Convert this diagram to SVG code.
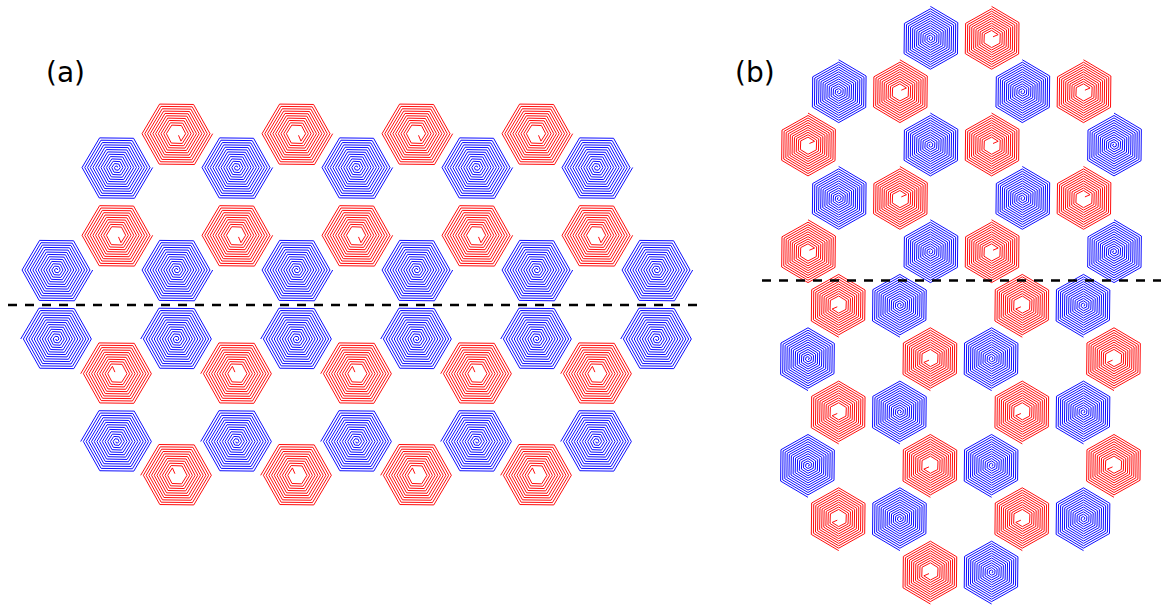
<svg xmlns="http://www.w3.org/2000/svg" xmlns:xlink="http://www.w3.org/1999/xlink" width="1161" height="606" viewBox="0 0 1161 606">
<style>
.b{fill:none;stroke:#0000ff;stroke-width:0.95;vector-effect:non-scaling-stroke}
.r{fill:none;stroke:#ff0000;stroke-width:0.95;vector-effect:non-scaling-stroke}
.dash{fill:none;stroke:#000;stroke-width:2.5;stroke-dasharray:9 8}
.lbl{font-family:"DejaVu Sans","Liberation Sans",sans-serif;font-size:28px;fill:#000}
</style>
<defs>
<path id="sb" class="b" d="M36,0 L17.78,30.79 -17.55,30.4 -34.65,0 -17.1,-29.62 16.88,-29.23 33.3,0 16.43,28.45 -16.2,28.06 -31.95,0 -15.75,-27.28 15.53,-26.89 30.6,0 15.08,26.11 -14.85,25.72 -29.25,0 -14.4,-24.94 14.18,-24.55 27.9,0 13.73,23.77 -13.5,23.38 -26.55,0 -13.05,-22.6 12.83,-22.21 25.2,0 12.38,21.43 -12.15,21.04 -23.85,0 -11.7,-20.26 11.48,-19.88 22.5,0 11.03,19.1 -10.8,18.71 -21.15,0 -10.35,-17.93 10.13,-17.54 19.8,0 9.68,16.76 -9.45,16.37 -18.45,0 -9,-15.59 8.78,-15.2 17.1,0 8.33,14.42 -8.1,14.03 -15.75,0 -7.65,-13.25 7.43,-12.86 14.4,0 6.98,12.08 -6.75,11.69 -13.05,0 -6.3,-10.91 6.08,-10.52 11.7,0 5.63,9.74 -5.4,9.35 -10.35,0 -4.95,-8.57 4.73,-8.18 9,0 4.28,7.4 -4.05,7.01 -7.65,0 -3.6,-6.24 3.38,-5.85 6.3,0 2.93,5.07 -2.7,4.68 -4.95,0 -2.25,-3.9 2.03,-3.51 3.6,0 1.58,2.73 -1.35,2.34 -2.25,0 -0.9,-1.56 0.68,-1.17 0.9,0"/>
<path id="sr" class="r" d="M36,0 L17.78,30.79 -17.55,30.4 -34.65,0 -17.1,-29.62 16.88,-29.23 33.3,0 16.43,28.45 -16.2,28.06 -31.95,0 -15.75,-27.28 15.53,-26.89 30.6,0 15.08,26.11 -14.85,25.72 -29.25,0 -14.4,-24.94 14.18,-24.55 27.9,0 13.73,23.77 -13.5,23.38 -26.55,0 -13.05,-22.6 12.83,-22.21 25.2,0 12.38,21.43 -12.15,21.04 -23.85,0 -11.7,-20.26 11.48,-19.88 22.5,0 11.03,19.1 -10.8,18.71 -21.15,0 -10.35,-17.93 10.13,-17.54 19.8,0 9.68,16.76 -9.45,16.37 -18.45,0 -9,-15.59 8.78,-15.2 17.1,0 8.33,14.42 -8.1,14.03 -15.75,0 -7.65,-13.25 7.43,-12.86 14.4,0 6.98,12.08 -6.75,11.69 -13.05,0 -6.3,-10.91 6.08,-10.52 11.7,0 5.63,9.74 -5.4,9.35 -10.35,0 -4.95,-8.57 4.73,-8.18 9,0 4.28,7.4 1.8,1.6"/>
</defs>

<text class="lbl" x="46" y="82">(a)</text>
<text class="lbl" x="735" y="82">(b)</text>

<g id="panel-a">
<g id="a-r1-1" transform="translate(176.7,133.7)"><use xlink:href="#sr"/></g>
<g id="a-r1-2" transform="translate(296.7,133.7)"><use xlink:href="#sr"/></g>
<g id="a-r1-3" transform="translate(416.7,133.7)"><use xlink:href="#sr"/></g>
<g id="a-r1-4" transform="translate(536.7,133.7)"><use xlink:href="#sr"/></g>

<g id="a-b2-1" transform="translate(116.7,167.5)"><use xlink:href="#sb"/></g>
<g id="a-b2-2" transform="translate(236.7,167.5)"><use xlink:href="#sb"/></g>
<g id="a-b2-3" transform="translate(356.7,167.5)"><use xlink:href="#sb"/></g>
<g id="a-b2-4" transform="translate(476.7,167.5)"><use xlink:href="#sb"/></g>
<g id="a-b2-5" transform="translate(596.7,167.5)"><use xlink:href="#sb"/></g>

<g id="a-r3-1" transform="translate(116.7,235.3)"><use xlink:href="#sr"/></g>
<g id="a-r3-2" transform="translate(236.7,235.3)"><use xlink:href="#sr"/></g>
<g id="a-r3-3" transform="translate(356.7,235.3)"><use xlink:href="#sr"/></g>
<g id="a-r3-4" transform="translate(476.7,235.3)"><use xlink:href="#sr"/></g>
<g id="a-r3-5" transform="translate(596.7,235.3)"><use xlink:href="#sr"/></g>

<g id="a-b4-1" transform="translate(56.7,270)"><use xlink:href="#sb"/></g>
<g id="a-b4-2" transform="translate(176.7,270)"><use xlink:href="#sb"/></g>
<g id="a-b4-3" transform="translate(296.7,270)"><use xlink:href="#sb"/></g>
<g id="a-b4-4" transform="translate(416.7,270)"><use xlink:href="#sb"/></g>
<g id="a-b4-5" transform="translate(536.7,270)"><use xlink:href="#sb"/></g>
<g id="a-b4-6" transform="translate(656.7,270)"><use xlink:href="#sb"/></g>

<g id="a-b5-1" transform="translate(56.7,339) rotate(180)"><use xlink:href="#sb"/></g>
<g id="a-b5-2" transform="translate(176.7,339) rotate(180)"><use xlink:href="#sb"/></g>
<g id="a-b5-3" transform="translate(296.7,339) rotate(180)"><use xlink:href="#sb"/></g>
<g id="a-b5-4" transform="translate(416.7,339) rotate(180)"><use xlink:href="#sb"/></g>
<g id="a-b5-5" transform="translate(536.7,339) rotate(180)"><use xlink:href="#sb"/></g>
<g id="a-b5-6" transform="translate(656.7,339) rotate(180)"><use xlink:href="#sb"/></g>

<g id="a-r6-1" transform="translate(116.7,373.7) rotate(180)"><use xlink:href="#sr"/></g>
<g id="a-r6-2" transform="translate(236.7,373.7) rotate(180)"><use xlink:href="#sr"/></g>
<g id="a-r6-3" transform="translate(356.7,373.7) rotate(180)"><use xlink:href="#sr"/></g>
<g id="a-r6-4" transform="translate(476.7,373.7) rotate(180)"><use xlink:href="#sr"/></g>
<g id="a-r6-5" transform="translate(596.7,373.7) rotate(180)"><use xlink:href="#sr"/></g>

<g id="a-b7-1" transform="translate(116.7,441.5) rotate(180)"><use xlink:href="#sb"/></g>
<g id="a-b7-2" transform="translate(236.7,441.5) rotate(180)"><use xlink:href="#sb"/></g>
<g id="a-b7-3" transform="translate(356.7,441.5) rotate(180)"><use xlink:href="#sb"/></g>
<g id="a-b7-4" transform="translate(476.7,441.5) rotate(180)"><use xlink:href="#sb"/></g>
<g id="a-b7-5" transform="translate(596.7,441.5) rotate(180)"><use xlink:href="#sb"/></g>

<g id="a-r8-1" transform="translate(176.7,475.3) rotate(180)"><use xlink:href="#sr"/></g>
<g id="a-r8-2" transform="translate(296.7,475.3) rotate(180)"><use xlink:href="#sr"/></g>
<g id="a-r8-3" transform="translate(416.7,475.3) rotate(180)"><use xlink:href="#sr"/></g>
<g id="a-r8-4" transform="translate(536.7,475.3) rotate(180)"><use xlink:href="#sr"/></g>
</g>

<g id="panel-b">
<g id="b-0-1" transform="translate(930.4,38.4) rotate(-90) scale(0.889)"><use xlink:href="#sb"/></g>
<g id="b-0-2" transform="translate(991.6,38.4) rotate(-90) scale(0.889)"><use xlink:href="#sr"/></g>

<g id="b-1-1" transform="translate(838.7,91.8) rotate(-90) scale(0.889)"><use xlink:href="#sb"/></g>
<g id="b-1-2" transform="translate(899.9,91.8) rotate(-90) scale(0.889)"><use xlink:href="#sr"/></g>
<g id="b-1-3" transform="translate(1022.3,91.8) rotate(-90) scale(0.889)"><use xlink:href="#sb"/></g>
<g id="b-1-4" transform="translate(1083.5,91.8) rotate(-90) scale(0.889)"><use xlink:href="#sr"/></g>

<g id="b-2-1" transform="translate(808,145.1) rotate(-90) scale(0.889)"><use xlink:href="#sr"/></g>
<g id="b-2-2" transform="translate(930.4,145.1) rotate(-90) scale(0.889)"><use xlink:href="#sb"/></g>
<g id="b-2-3" transform="translate(991.6,145.1) rotate(-90) scale(0.889)"><use xlink:href="#sr"/></g>
<g id="b-2-4" transform="translate(1114,145.1) rotate(-90) scale(0.889)"><use xlink:href="#sb"/></g>

<g id="b-3-1" transform="translate(838.7,198.5) rotate(-90) scale(0.889)"><use xlink:href="#sb"/></g>
<g id="b-3-2" transform="translate(899.9,198.5) rotate(-90) scale(0.889)"><use xlink:href="#sr"/></g>
<g id="b-3-3" transform="translate(1022.3,198.5) rotate(-90) scale(0.889)"><use xlink:href="#sb"/></g>
<g id="b-3-4" transform="translate(1083.5,198.5) rotate(-90) scale(0.889)"><use xlink:href="#sr"/></g>

<g id="b-4-1" transform="translate(808,251.8) rotate(-90) scale(0.889)"><use xlink:href="#sr"/></g>
<g id="b-4-2" transform="translate(930.4,251.8) rotate(-90) scale(0.889)"><use xlink:href="#sb"/></g>
<g id="b-4-3" transform="translate(991.6,251.8) rotate(-90) scale(0.889)"><use xlink:href="#sr"/></g>
<g id="b-4-4" transform="translate(1114,251.8) rotate(-90) scale(0.889)"><use xlink:href="#sb"/></g>

<g id="b-5-1" transform="translate(838.7,305.2) rotate(90) scale(0.889)"><use xlink:href="#sr"/></g>
<g id="b-5-2" transform="translate(899.9,305.2) rotate(90) scale(0.889)"><use xlink:href="#sb"/></g>
<g id="b-5-3" transform="translate(1022.3,305.2) rotate(90) scale(0.889)"><use xlink:href="#sr"/></g>
<g id="b-5-4" transform="translate(1083.5,305.2) rotate(90) scale(0.889)"><use xlink:href="#sb"/></g>

<g id="b-6-1" transform="translate(808,358.6) rotate(90) scale(0.889)"><use xlink:href="#sb"/></g>
<g id="b-6-2" transform="translate(930.4,358.6) rotate(90) scale(0.889)"><use xlink:href="#sr"/></g>
<g id="b-6-3" transform="translate(991.6,358.6) rotate(90) scale(0.889)"><use xlink:href="#sb"/></g>
<g id="b-6-4" transform="translate(1114,358.6) rotate(90) scale(0.889)"><use xlink:href="#sr"/></g>

<g id="b-7-1" transform="translate(838.7,411.9) rotate(90) scale(0.889)"><use xlink:href="#sr"/></g>
<g id="b-7-2" transform="translate(899.9,411.9) rotate(90) scale(0.889)"><use xlink:href="#sb"/></g>
<g id="b-7-3" transform="translate(1022.3,411.9) rotate(90) scale(0.889)"><use xlink:href="#sr"/></g>
<g id="b-7-4" transform="translate(1083.5,411.9) rotate(90) scale(0.889)"><use xlink:href="#sb"/></g>

<g id="b-8-1" transform="translate(808,465.3) rotate(90) scale(0.889)"><use xlink:href="#sb"/></g>
<g id="b-8-2" transform="translate(930.4,465.3) rotate(90) scale(0.889)"><use xlink:href="#sr"/></g>
<g id="b-8-3" transform="translate(991.6,465.3) rotate(90) scale(0.889)"><use xlink:href="#sb"/></g>
<g id="b-8-4" transform="translate(1114,465.3) rotate(90) scale(0.889)"><use xlink:href="#sr"/></g>

<g id="b-9-1" transform="translate(838.7,518.6) rotate(90) scale(0.889)"><use xlink:href="#sr"/></g>
<g id="b-9-2" transform="translate(899.9,518.6) rotate(90) scale(0.889)"><use xlink:href="#sb"/></g>
<g id="b-9-3" transform="translate(1022.3,518.6) rotate(90) scale(0.889)"><use xlink:href="#sr"/></g>
<g id="b-9-4" transform="translate(1083.5,518.6) rotate(90) scale(0.889)"><use xlink:href="#sb"/></g>

<g id="b-10-1" transform="translate(930.4,572) rotate(90) scale(0.889)"><use xlink:href="#sr"/></g>
<g id="b-10-2" transform="translate(991.6,572) rotate(90) scale(0.889)"><use xlink:href="#sb"/></g>
</g>

<g id="connectors">
<line class="dash" x1="8" y1="305" x2="700" y2="305"/>
<line class="dash" x1="762" y1="280.5" x2="1161" y2="280.5"/>
</g>
</svg>
